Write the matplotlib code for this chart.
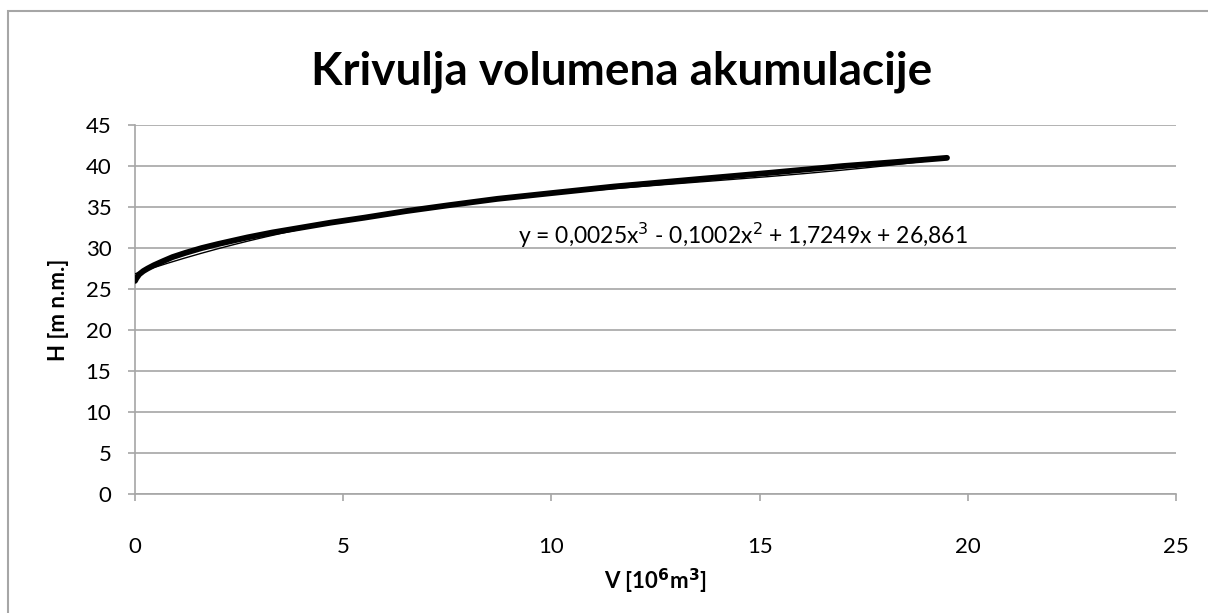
import matplotlib
matplotlib.use("Agg")
import matplotlib.pyplot as plt
import numpy as np
from matplotlib.patches import Rectangle

plt.rcParams["font.family"] = ["Lato", "DejaVu Sans"]

# volume V [10^6 m3] vs water level H [m n.m.]
volume = [0.0, 0.03, 0.1, 0.2, 0.3, 0.45, 0.67, 0.9, 1.2, 1.6, 2.0, 2.7,
          3.3, 4.0, 4.7, 5.5, 6.5, 7.5, 8.7, 10.0, 11.5, 13.5, 15.3, 17.0,
          18.3, 19.5]
level = [26.0, 26.3, 26.8, 27.2, 27.5, 27.9, 28.4, 28.9, 29.4, 30.0, 30.5,
         31.3, 31.9, 32.5, 33.1, 33.7, 34.5, 35.2, 36.0, 36.7, 37.5, 38.4,
         39.2, 40.0, 40.5, 41.0]

# polynomial trendline coefficients (highest power first)
trend_coef = [0.0025, -0.1002, 1.7249, 26.861]
trend_label = "y = 0,0025x$^3$ - 0,1002x$^2$ + 1,7249x + 26,861"

GRID = "#a6a6a6"

fig = plt.figure(figsize=(12.08, 6.13), dpi=100)
ax = fig.add_axes([0.1118, 0.194, 0.8617, 0.602])

ax.plot(volume, level, color="black", lw=4.2, solid_capstyle="round",
        solid_joinstyle="round", zorder=3)
xt = np.linspace(0, volume[-1], 200)
ax.plot(xt, np.polyval(trend_coef, xt), color="black", lw=1.0, zorder=4)

ax.text(9.2, 31.5, trend_label, fontsize=16.5, ha="left", va="center")

ax.set_xlim(0, 25)
ax.set_ylim(0, 45)
ax.set_xticks(range(0, 26, 5))
ax.set_yticks(range(0, 46, 5))
ax.grid(axis="y", color=GRID, lw=1.2)
ax.set_axisbelow(True)
for s in ["top", "right"]:
    ax.spines[s].set_visible(False)
for s in ["left", "bottom"]:
    ax.spines[s].set_color(GRID)
    ax.spines[s].set_linewidth(1.2)
ax.tick_params(axis="both", colors=GRID, labelcolor="black", labelsize=16,
               length=5, width=1.2)
ax.tick_params(axis="x", pad=26)
ax.tick_params(axis="y", pad=12)

ax.set_xlabel("V [10$^{\\mathbf{6}}$m$^{\\mathbf{3}}$]", fontsize=16,
              fontweight="bold", labelpad=7)
ax.set_ylabel("H [m n.m.]", fontsize=16, fontweight="bold", labelpad=12)

fig.text(0.515, 0.883, "Krivulja volumena akumulacije", fontsize=33,
         fontweight="bold", ha="center", va="center")

fig.patches.append(Rectangle((8 / 1208, -0.05), 1.1, 0.982 + 0.05,
                             transform=fig.transFigure, fill=False,
                             edgecolor="#a6a6a6", lw=1.5))

fig.savefig("out.png", dpi=100)
